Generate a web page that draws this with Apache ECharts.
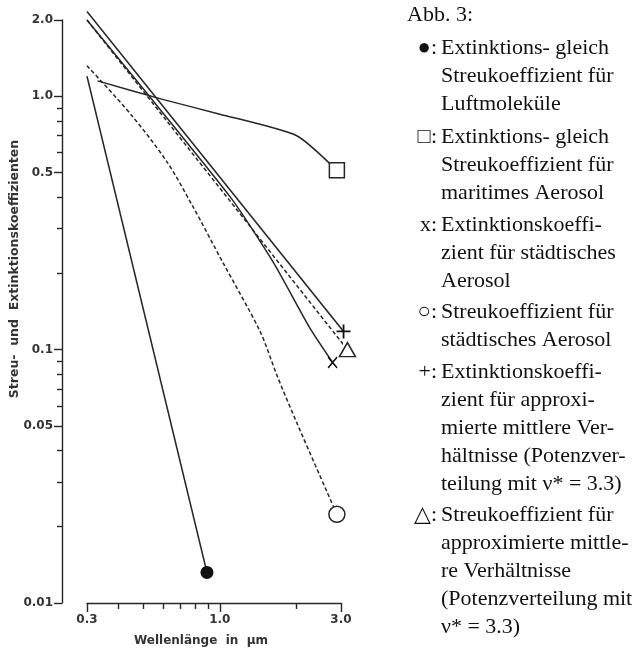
<!DOCTYPE html>
<html><head><meta charset="utf-8">
<script src="https://cdn.jsdelivr.net/npm/echarts@6/dist/echarts.min.js"></script>
<style>html,body{margin:0;padding:0;background:#fff}#c{width:641px;height:652px}</style>
</head><body><div id="c"></div>
<script>
// ---- data (wavelength in µm, coefficient) ----
const molWl = [0.3, 0.89];
const molCoef = [1.2, 0.0132];
const marWl = [0.33, 0.6, 1.0, 2.0, 2.89];
const marCoef = [1.15, 0.97, 0.85, 0.70, 0.51];
const urbExtWl = [0.3, 1.1, 1.62, 2.27, 2.78];
const urbExtCoef = [2.0, 0.40, 0.222, 0.121, 0.089];
const urbScaWl = [0.3, 0.45, 0.62, 0.78, 1.03, 1.44, 1.68, 2.0, 2.89];
const urbScaCoef = [1.32, 0.84, 0.55, 0.37, 0.22, 0.118, 0.079, 0.052, 0.0224];
const appExtWl = [0.3, 3.07];
const appExtCoef = [2.16, 0.118];
const appScaWl = [0.3, 3.18];
const appScaCoef = [2.0, 0.1];

// ---- ticks ----
const xMajor = [0.3, 1.0, 3.0];
const xMajorLabels = ['0.3', '1.0', '3.0'];
const xMinor = [0.4, 0.5, 0.6, 0.7, 0.8, 0.9, 2.0];
const yMajor = [0.01, 0.05, 0.1, 0.5, 1.0, 2.0];
const yMajorLabels = ['0.01', '0.05', '0.1', '0.5', '1.0', '2.0'];
const yMinor = [0.02, 0.03, 0.04, 0.06, 0.07, 0.08, 0.09, 0.2, 0.3, 0.4, 0.6, 0.7, 0.8, 0.9];

// ---- legend text ----
const legendTitle = 'Abb. 3:';
const legendMarks = ['●', '□', 'x', '○', '+', '△'];
const legendTexts = [
  ['Extinktions- gleich', 'Streukoeffizient für', 'Luftmoleküle'],
  ['Extinktions- gleich', 'Streukoeffizient für', 'maritimes Aerosol'],
  ['Extinktionskoeffi-', 'zient für städtisches', 'Aerosol'],
  ['Streukoeffizient für', 'städtisches Aerosol'],
  ['Extinktionskoeffi-', 'zient für approxi-', 'mierte mittlere Ver-', 'hältnisse (Potenzver-', 'teilung mit ν* = 3.3)'],
  ['Streukoeffizient für', 'approximierte mittle-', 're Verhältnisse', '(Potenzverteilung mit', 'ν* = 3.3)']
];
const legendTops = [34, 123, 211, 298, 358, 501];

const INK = '#262626';
const lblFont = {fontFamily: 'DejaVu Sans', fontWeight: 'bold', fontSize: 12, color: '#333'};

function nearestLabel(v, vals, labels) {
  let best = 0, bd = Infinity;
  vals.forEach((t, i) => { const d = Math.abs(Math.log(v / t)); if (d < bd) { bd = d; best = i; } });
  return labels[best];
}

const SYM = {
  dot: {symbol: 'circle', size: 13, style: {color: '#111'}},
  square: {symbol: 'rect', size: 15, style: {color: '#fff', borderColor: INK, borderWidth: 1.5}},
  cross: {symbol: 'path://M0,2L2,0L10,8L18,0L20,2L12,10L20,18L18,20L10,12L2,20L0,18L8,10Z', size: [10, 12], style: {color: '#111'}},
  circle: {symbol: 'circle', size: 16, style: {color: '#fff', borderColor: INK, borderWidth: 1.5}},
  plus: {symbol: 'path://M8.7,0H11.3V8.7H20V11.3H11.3V20H8.7V11.3H0V8.7H8.7Z', size: 14, style: {color: '#111'}},
  tri: {symbol: 'triangle', size: [16, 14], style: {color: '#fff', borderColor: INK, borderWidth: 1.5}}
};

function lineSeries(name, wl, coef, dashed, sym, smooth) {
  const last = wl.length - 1;
  return {
    type: 'line', name: name, xAxisIndex: 0, yAxisIndex: 0, clip: false, silent: true,
    symbol: 'none', showSymbol: true, smooth: smooth || false,
    lineStyle: {color: INK, width: 1.5, type: dashed ? [4, 2.5] : 'solid'},
    data: wl.map((w, i) => i === last
      ? {value: [w, coef[i]], symbol: sym.symbol, symbolSize: sym.size, itemStyle: sym.style}
      : {value: [w, coef[i]], symbol: 'none'}),
    z: 3
  };
}

const graphics = [
  {type: 'text', x: 15, y: 269, rotation: Math.PI / 2,
   style: {text: 'Streu-  und  Extinktionskoeffizienten', align: 'center', verticalAlign: 'middle',
           font: 'bold 12.5px "DejaVu Sans"', fill: '#333'}},
  {type: 'text', x: 407, y: 1,
   style: {text: legendTitle, font: '22px "Liberation Serif"', fill: '#111', lineHeight: 28, verticalAlign: 'top'}}
];
legendTexts.forEach((lines, i) => {
  graphics.push({type: 'text', x: 437, y: legendTops[i],
    style: {text: legendMarks[i] + ':', align: 'right', verticalAlign: 'top', lineHeight: 28,
            font: '22px "Liberation Serif", "DejaVu Sans"', fill: '#111'}});
  graphics.push({type: 'text', x: 441, y: legendTops[i],
    style: {text: lines.join('\n'), align: 'left', verticalAlign: 'top', lineHeight: 28,
            font: '22px "Liberation Serif"', fill: '#111'}});
});

const axisLineStyle = {color: INK, width: 1.4};
const option = {
  animation: false,
  backgroundColor: '#fff',
  grid: {left: 87, right: 300, top: 20, bottom: 47, containLabel: false},
  xAxis: [
    {type: 'log', logBase: 10, min: 0.3, max: 3, position: 'bottom',
     axisLine: {show: true, onZero: false, lineStyle: axisLineStyle},
     axisTick: {show: true, customValues: xMajor, length: 9, lineStyle: axisLineStyle},
     axisLabel: {show: true, customValues: xMajor, margin: 11,
                 formatter: v => nearestLabel(v, xMajor, xMajorLabels), ...lblFont},
     splitLine: {show: false}, minorTick: {show: false},
     name: 'Wellenlänge  in  μm', nameLocation: 'middle', nameGap: 32,
     nameTextStyle: {fontFamily: 'DejaVu Sans', fontWeight: 'bold', fontSize: 12, color: '#333', padding: [0, 26, 0, 0]}},
    {type: 'log', logBase: 10, min: 0.3, max: 3, position: 'bottom',
     axisLine: {show: false, onZero: false},
     axisTick: {show: true, customValues: xMinor, length: 6, lineStyle: axisLineStyle},
     axisLabel: {show: false}, splitLine: {show: false}}
  ],
  yAxis: [
    {type: 'log', logBase: 10, min: 0.01, max: 2, position: 'left', offset: 25,
     axisLine: {show: true, onZero: false, lineStyle: axisLineStyle},
     axisTick: {show: true, customValues: yMajor, length: 8, lineStyle: axisLineStyle},
     axisLabel: {show: true, customValues: yMajor, margin: 9,
                 formatter: v => nearestLabel(v, yMajor, yMajorLabels), ...lblFont},
     splitLine: {show: false}, minorTick: {show: false}},
    {type: 'log', logBase: 10, min: 0.01, max: 2, position: 'left', offset: 25,
     axisLine: {show: false, onZero: false},
     axisTick: {show: true, customValues: yMinor, length: 5, lineStyle: axisLineStyle},
     axisLabel: {show: false}, splitLine: {show: false}}
  ],
  series: [
    lineSeries('Luftmoleküle', molWl, molCoef, false, SYM.dot),
    lineSeries('maritimes Aerosol', marWl, marCoef, false, SYM.square, 0.2),
    lineSeries('städtisches Aerosol Extinktion', urbExtWl, urbExtCoef, false, SYM.cross, 0.2),
    lineSeries('städtisches Aerosol Streuung', urbScaWl, urbScaCoef, true, SYM.circle, 0.3),
    lineSeries('approximiert Extinktion', appExtWl, appExtCoef, false, SYM.plus),
    lineSeries('approximiert Streuung', appScaWl, appScaCoef, true, SYM.tri)
  ],
  graphic: graphics
};
const chart = echarts.init(document.getElementById('c'), null, {renderer: 'canvas'});
chart.setOption(option);
</script>
</body></html>
